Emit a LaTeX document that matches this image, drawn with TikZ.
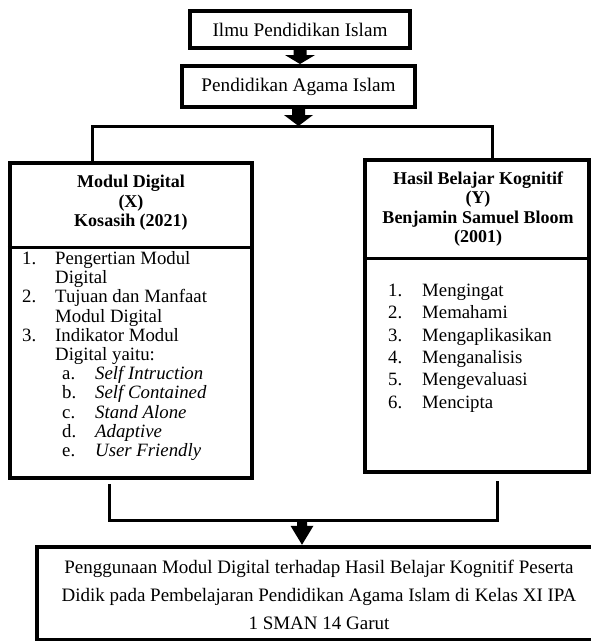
\documentclass[tikz,border=0pt]{standalone}
\usepackage{fontspec}
\setmainfont{Liberation Serif}
\usetikzlibrary{calc}
\tikzset{
  box/.style={draw, line width=4pt, inner sep=0pt, font=\fontsize{19.2}{21}\selectfont},
  bigbox/.style={draw, line width=4.5pt, inner sep=0pt},
  conn/.style={line width=3pt, line join=miter},
  divider/.style={line width=3pt},
  headtxt/.style={inner sep=0pt, align=center, font=\bfseries\fontsize{18}{19.4}\selectfont},
  listtxt/.style={inner sep=0pt, anchor=base west},
}
\newcommand{\blockarrow}[5]{%
  \fill let \p1=(#1), \p2=(#2) in
    (\x1-#3/2,\y1) -- (\x1+#3/2,\y1) -- (\x1+#3/2,\y2+#5) -- (\x1+#4/2,\y2+#5)
    -- (\x1,\y2) -- (\x1-#4/2,\y2+#5) -- (\x1-#3/2,\y2+#5) -- cycle;}
\begin{document}
\begin{tikzpicture}[x=1pt,y=-1pt]
\useasboundingbox (0,0) rectangle (591,641);
% top boxes
\node[box, minimum width=220pt, minimum height=37pt] (b1) at (300,29.5) {Ilmu Pendidikan Islam};
\node[box, minimum width=233pt, minimum height=41pt] (b2) at (298.5,86.5) {Pendidikan Agama Islam};
% big boxes
\node[bigbox, minimum width=242pt, minimum height=315pt] (lb) at (131,320.5) {};
\node[bigbox, minimum width=224pt, minimum height=312pt] (rb) at (477,316) {};
\node[bigbox, minimum width=556pt, minimum height=93pt] (bb) at (315,593.5) {};
% dividers
\coordinate (ld) at (0,247);
\coordinate (rd) at (0,258);
\draw[divider] (lb.west |- ld) -- (lb.east |- ld);
\draw[divider] (rb.west |- rd) -- (rb.east |- rd);
% connectors top
\coordinate (hl) at (92,126);
\coordinate (hr) at (492,126);
\draw[conn] (hl |- lb.north) -- (hl) -- (hr) -- (hr |- rb.north);
\blockarrow{b1.south}{b1.south |- b2.north}{13pt}{30pt}{9pt}
\blockarrow{b2.south}{b2.south |- hl}{13pt}{29pt}{11pt}
% connectors bottom
\coordinate (llt) at (109,484);
\coordinate (ll) at (109,520);
\coordinate (lr) at (497,520);
\coordinate (lrt) at (497,481);
\coordinate (ma) at (302,520);
\draw[conn] (llt) -- (ll) -- (lr) -- (lrt);
\blockarrow{ma}{ma |- bb.north}{10pt}{23pt}{19pt}
% headers
\node[headtxt] (lh) at (131,203) {Modul Digital\\(X)\\Kosasih (2021)};
\node[headtxt] (rh) at (478,209) {Hasil Belajar Kognitif\\(Y)\\Benjamin Samuel Bloom\\(2001)};
% lists
\node[listtxt, font=\fontsize{18.8}{19.2}\selectfont] (ll1) at (22,264.5) {%
\begin{tabular}[t]{@{}p{33pt}@{}l@{}}
1. & Pengertian Modul\\
   & Digital\\
2. & Tujuan dan Manfaat\\
   & Modul Digital\\
3. & Indikator Modul\\
   & Digital yaitu:\\
   & \hspace{7pt}\makebox[33pt][l]{a.}\textit{Self Intruction}\\
   & \hspace{7pt}\makebox[33pt][l]{b.}\textit{Self Contained}\\
   & \hspace{7pt}\makebox[33pt][l]{c.}\textit{Stand Alone}\\
   & \hspace{7pt}\makebox[33pt][l]{d.}\textit{Adaptive}\\
   & \hspace{7pt}\makebox[33pt][l]{e.}\textit{User Friendly}
\end{tabular}};
\node[listtxt, font=\fontsize{18.8}{22.3}\selectfont] (rl1) at (388,296.5) {%
\begin{tabular}[t]{@{}p{34pt}@{}l@{}}
1. & Mengingat\\
2. & Memahami\\
3. & Mengaplikasikan\\
4. & Menganalisis\\
5. & Mengevaluasi\\
6. & Mencipta
\end{tabular}};
% bottom text
\node[inner sep=0pt, align=center, font=\fontsize{19}{28}\selectfont] (bt) at (319,595)
 {Penggunaan Modul Digital terhadap Hasil Belajar Kognitif Peserta\\
  Didik pada Pembelajaran Pendidikan Agama Islam di Kelas XI IPA\\
  1 SMAN 14 Garut};
\end{tikzpicture}
\end{document}
